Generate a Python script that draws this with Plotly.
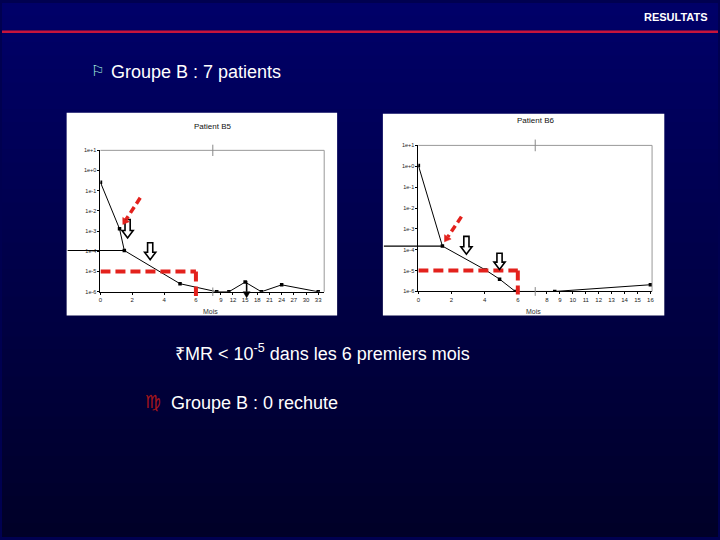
import math
import plotly.graph_objects as go

W, H = 720, 540

# Patient B5 : maladie résiduelle (MR) selon les mois
b5_mois = [0, 1.2, 1.5, 5, 8, 11, 15, 19, 24, 33]
b5_mr = [2.6e-1, 1.3e-3, 1.1e-4, 2.5e-6, 1e-6, 1e-6, 3e-6, 1e-6, 2.2e-6, 1e-6]
b5_ticks_debut = [0, 2, 4, 6]
b5_ticks_suite = [9, 12, 15, 18, 21, 24, 27, 30, 33]

# Patient B6
b6_mois = [0, 1.45, 4.05, 4.9, 5.85, 8.6, 16]
b6_mr = [1.1e0, 1.5e-4, 1.07e-5, 3.9e-6, 1e-6, 1e-6, 2.1e-6]
b6_ticks_debut = [0, 2, 4, 6]
b6_ticks_suite = [8, 9, 10, 11, 12, 13, 14, 15, 16]

y_ticks = [1e1, 1e0, 1e-1, 1e-2, 1e-3, 1e-4, 1e-5, 1e-6]
y_labels = ['1e+1', '1e+0', '1e-1', '1e-2', '1e-3', '1e-4', '1e-5', '1e-6']
seuil = 1e-5
mois_seuil = 6

ROUGE = '#e3211c'
FONT = 'Liberation Sans, Arial, sans-serif'


def pp(x, y):
    # pixel -> paper
    return x / W, 1 - y / H


def chemin(pts):
    return 'M ' + ' L '.join('%.5f,%.5f' % pp(x, y) for x, y in pts) + ' Z'


def coupe(ref, u_ref, pente):
    # axe coupé : lineaire jusqu'a 6 mois puis echelle comprimée
    def f(m):
        return m if m <= 6 else u_ref + (m - ref) * pente
    return f


panels = [
    dict(nom='Patient B5', mois=b5_mois, mr=b5_mr, t1=b5_ticks_debut, t2=b5_ticks_suite,
         f=coupe(9, 7.5625, 0.255), coupure=7.06, xmax=14.06,
         box=(65, 111, 337, 316), plot=(99, 149, 324, 292), titre_y=125, bas=-0.03),
    dict(nom='Patient B6', mois=b6_mois, mr=b6_mr, t1=b6_ticks_debut, t2=b6_ticks_suite,
         f=coupe(8, 7.76, 0.78), coupure=7.05, xmax=14.1,
         box=(383, 112, 666, 316), plot=(418.7, 144, 653.7, 291.7), titre_y=119, bas=-0.02),
]

fig = go.Figure()
shapes = []
annotations = []

# fond degradé bleu marine
n_bandes = 40
for i in range(n_bandes):
    t = i / (n_bandes - 1)
    b = int(round(104 - 64 * t))
    shapes.append(dict(type='rect', xref='paper', yref='paper', x0=0, x1=1,
                       y0=1 - (i + 1) / n_bandes, y1=min(1, 1 - i / n_bandes + 0.001),
                       fillcolor=f'rgb(0,0,{b})', line_width=0, layer='below'))

# en-tete
shapes.append(dict(type='line', xref='paper', yref='paper', x0=0, x1=1,
                   y0=1 - 29 / H, y1=1 - 29 / H, line=dict(color='#c8143c', width=2.5)))
annotations.append(dict(text='<b>RESULTATS</b>', x=712 / W, y=1 - 14 / H, xref='paper', yref='paper',
                        xanchor='right', yanchor='middle', showarrow=False,
                        font=dict(family=FONT, size=11, color='white')))


def fleche_creuse(cx, top, bottom):
    hs, hh, hl = 2.6, 5.6, 7.5
    pts = [(cx - hs, top), (cx + hs, top), (cx + hs, bottom - hl), (cx + hh, bottom - hl),
           (cx, bottom), (cx - hh, bottom - hl), (cx - hs, bottom - hl)]
    return dict(type='path', xref='paper', yref='paper', path=chemin(pts),
                fillcolor='white', line=dict(color='black', width=1.6))


def pointe(x0, y0, x1, y1, couleur, long, larg):
    # triangle plein au bout (x1, y1)
    d = math.hypot(x1 - x0, y1 - y0)
    ux, uy = (x1 - x0) / d, (y1 - y0) / d
    bx, by = x1 - ux * long, y1 - uy * long
    pts = [(x1, y1), (bx - uy * larg, by + ux * larg), (bx + uy * larg, by - ux * larg)]
    shapes.append(dict(type='path', xref='paper', yref='paper', path=chemin(pts),
                       fillcolor=couleur, line=dict(color=couleur, width=0.5)))
    return bx, by


def fleche_rouge(x0, y0, x1, y1):
    bx, by = pointe(x0, y0, x1, y1, ROUGE, 6, 4)
    a, b = pp(x0, y0)
    c, e = pp(bx, by)
    shapes.append(dict(type='line', xref='paper', yref='paper', x0=a, y0=b, x1=c, y1=e,
                       line=dict(color=ROUGE, width=3.5, dash='7px,4px')))


for k, p in enumerate(panels):
    i = '' if k == 0 else str(k + 1)
    f = p['f']
    bx0, by0, bx1, by1 = p['box']
    px0, py0, px1, py1 = p['plot']
    # fond blanc du graphique
    a, b = pp(bx0, by1)
    c, d = pp(bx1, by0)
    shapes.append(dict(type='rect', xref='paper', yref='paper', x0=a, y0=b, x1=c, y1=d,
                       fillcolor='white', line_width=0, layer='below'))

    u = [f(m) for m in p['mois']]
    fig.add_trace(go.Scatter(x=u, y=p['mr'], mode='lines+markers', xaxis='x' + i, yaxis='y' + i,
                             line=dict(color='black', width=1),
                             marker=dict(symbol='square', size=3.5, color='black'),
                             showlegend=False, hoverinfo='skip'))

    ticks = p['t1'] + p['t2']
    fig.update_layout(**{
        'xaxis' + i: dict(domain=[px0 / W, px1 / W], range=[0, p['xmax']], anchor='y' + i,
                          tickvals=[f(m) if m > 6 else m for m in ticks],
                          ticktext=[str(m) for m in ticks],
                          showgrid=False, zeroline=False, showline=True, linecolor='black', linewidth=1,
                          ticks='outside', ticklen=2, tickcolor='black',
                          tickfont=dict(family=FONT, size=6, color='#222')),
        'yaxis' + i: dict(domain=[1 - py1 / H, 1 - py0 / H], type='log', range=[-6, 1], anchor='x' + i,
                          tickvals=y_ticks, ticktext=y_labels,
                          showgrid=False, zeroline=False, showline=True, linecolor='black', linewidth=1,
                          ticks='outside', ticklen=2, tickcolor='black',
                          tickfont=dict(family=FONT, size=5.5, color='#222')),
    })
    xd, yd = 'x' + i + ' domain', 'y' + i + ' domain'
    # cadre gris haut et droite
    shapes.append(dict(type='line', xref=xd, yref=yd, x0=0, x1=1, y0=1, y1=1, line=dict(color='#999', width=1)))
    shapes.append(dict(type='line', xref=xd, yref=yd, x0=1, x1=1, y0=0, y1=1, line=dict(color='#999', width=1)))
    # marques de coupure de l'axe
    for y0, y1 in [(-0.03, 0.03), (0.96, 1.04)]:
        shapes.append(dict(type='line', xref='x' + i, yref=yd, x0=p['coupure'], x1=p['coupure'],
                           y0=y0, y1=y1, line=dict(color='#888', width=1)))
    # seuil 1e-5 sur les 6 premiers mois
    fy = (math.log10(seuil) + 6) / 7
    shapes.append(dict(type='line', xref='x' + i, yref=yd, x0=0, x1=mois_seuil, y0=fy, y1=fy,
                       line=dict(color=ROUGE, width=4, dash='10px,5px')))
    shapes.append(dict(type='line', xref='x' + i, yref=yd, x0=mois_seuil, x1=mois_seuil, y0=fy, y1=p['bas'],
                       line=dict(color=ROUGE, width=4, dash='10px,5px')))
    # trait horizontal vers le point de sensibilité
    j = 2 if k == 0 else 1
    ypt = py1 - (math.log10(p['mr'][j]) + 6) / 7 * (py1 - py0)
    xpt = px0 + u[j] / p['xmax'] * (px1 - px0)
    a, b = pp(bx0 + 1, ypt)
    c, d = pp(xpt, ypt)
    shapes.append(dict(type='line', xref='paper', yref='paper', x0=a, x1=c, y0=b, y1=d,
                       line=dict(color='black', width=1.2)))
    # titre et "Mois"
    annotations.append(dict(text=p['nom'], x=((px0 + px1) / 2) / W, y=1 - p['titre_y'] / H,
                            xref='paper', yref='paper', showarrow=False, xanchor='center', yanchor='middle',
                            font=dict(family=FONT, size=8, color='#111')))
    annotations.append(dict(text='Mois', x=((px0 + px1) / 2 - 2) / W, y=1 - 312 / H,
                            xref='paper', yref='paper', showarrow=False, xanchor='center', yanchor='middle',
                            font=dict(family=FONT, size=7, color='#333')))

# flèches
shapes.append(fleche_creuse(126.3, 219, 237.5))
shapes.append(fleche_creuse(149, 242.5, 259.5))
shapes.append(fleche_creuse(467, 236, 254))
shapes.append(fleche_creuse(500.3, 253, 269.5))
fleche_rouge(139, 197, 121.5, 224)
fleche_rouge(462, 216, 445, 241.5)
bx, by = pointe(246, 281, 246, 298, 'black', 6, 3.5)
a, b = pp(246, 281)
c, d = pp(bx, by)
shapes.append(dict(type='line', xref='paper', yref='paper', x0=a, y0=b, x1=c, y1=d,
                   line=dict(color='black', width=1.6)))

# textes de la diapositive
textes = [
    ('⚐', 87, 69, 15, '#9fe3dc', 'DejaVu Sans'),
    ('Groupe B : 7 patients', 108, 70, 18, 'white', FONT),
    ('₹MR < 10<sup>-5</sup> dans les 6 premiers mois', 172, 353, 18, 'white', FONT),
    ('<b>♍\ufe0e</b>', 142, 403, 18, '#a4161a', 'DejaVu Sans'),
    ('Groupe B : 0 rechute', 168, 404, 18, 'white', FONT),
]
for txt, x, y, s, col, fam in textes:
    a, b = pp(x, y)
    annotations.append(dict(text=txt, x=a, y=b, xref='paper', yref='paper', showarrow=False,
                            xanchor='left', yanchor='middle', font=dict(family=fam, size=s, color=col)))

fig.update_layout(width=W, height=H, margin=dict(l=0, r=0, t=0, b=0),
                  paper_bgcolor='#000050', plot_bgcolor='white',
                  shapes=shapes, annotations=annotations)
fig.write_html("out.html", config={'displayModeBar': False},
               post_script="document.body.style.margin='0';")
